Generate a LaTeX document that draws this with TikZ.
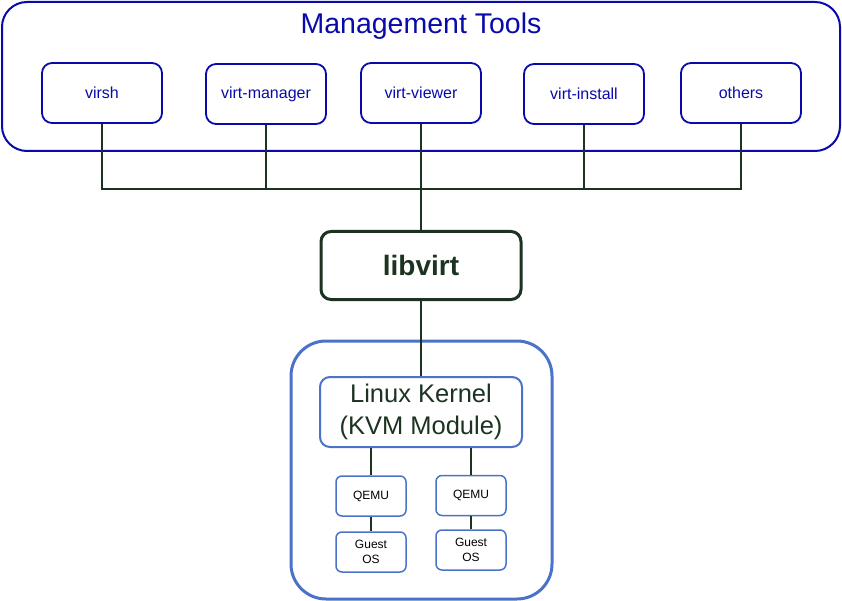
\documentclass[tikz,border=0pt]{standalone}
\usepackage{fontspec}
\setmainfont{Liberation Sans}

\definecolor{toolblue}{HTML}{0A0AAA}
\definecolor{linkgreen}{HTML}{1B3320}
\definecolor{kvmblue}{HTML}{4A72C8}

\begin{document}
\begin{tikzpicture}[x=1pt,y=-1pt,
    tool/.style={draw=toolblue, line width=1.8pt, rounded corners=10pt,
      minimum width=120pt, minimum height=60pt, inner sep=0pt,
      text=toolblue, font=\fontsize{16}{19}\selectfont},
    guest/.style={draw=kvmblue, line width=1.5pt, rounded corners=6pt,
      minimum width=70pt, minimum height=40pt, inner sep=0pt, align=center,
      font=\fontsize{12}{15}\selectfont},
    link/.style={draw=linkgreen, line width=1.8pt}]
  \useasboundingbox (0,0) rectangle (842,601);

  % management tools
  \draw [toolblue, line width=2pt, rounded corners=25pt] (2,2) rectangle (840,151);
  \node (title) at (421,26) [text=toolblue, font=\fontsize{28.5}{33}\selectfont] {Management Tools};

  \node (virsh)   at (102,93) [tool] {virsh};
  \node (manager) at (266,94) [tool] {virt-manager};
  \node (viewer)  at (421,93) [tool] {virt-viewer};
  \node (install) at (584,94) [tool] {virt-install};
  \node (others)  at (741,93) [tool] {others};

  \coordinate (bus) at (421,189);

  % libvirt
  \node (libvirt) at (421,265.5) [draw=linkgreen, line width=3pt, rounded corners=10pt,
    minimum width=200pt, minimum height=68pt, inner sep=0pt, text=linkgreen,
    font=\bfseries\fontsize{28}{33}\selectfont] {libvirt};

  % kernel
  \draw [kvmblue, line width=3pt, rounded corners=35pt] (291,341) rectangle (552,599);
  \node (kernel) at (421,412) [draw=kvmblue, line width=2pt, rounded corners=10pt,
    minimum width=202pt, minimum height=70pt, inner sep=0pt, align=center,
    text=linkgreen, font=\fontsize{25.5}{32}\selectfont] {Linux Kernel\\(KVM Module)};

  \node (qemuA)  at (371,496) [guest] {QEMU};
  \node (qemuB)  at (471,495.5) [guest] {QEMU};
  \node (guestA) at (371,552) [guest] {Guest\\OS};
  \node (guestB) at (471,550) [guest] {Guest\\OS};

  \draw [link] (virsh.south) |- (bus);
  \draw [link] (manager.south) |- (bus);
  \draw [link] (install.south) |- (bus);
  \draw [link] (others.south) |- (bus);
  \draw [link] (viewer.south) -- (bus);
  \draw [link] (bus) -- (libvirt.north);
  \draw [link] (libvirt.south) -- (kernel.north);
  \draw [link] (qemuA.north) -- (qemuA.north |- kernel.south);
  \draw [link] (qemuB.north) -- (qemuB.north |- kernel.south);
  \draw [link] (qemuA.south) -- (guestA.north);
  \draw [link] (qemuB.south) -- (guestB.north);
\end{tikzpicture}
\end{document}
